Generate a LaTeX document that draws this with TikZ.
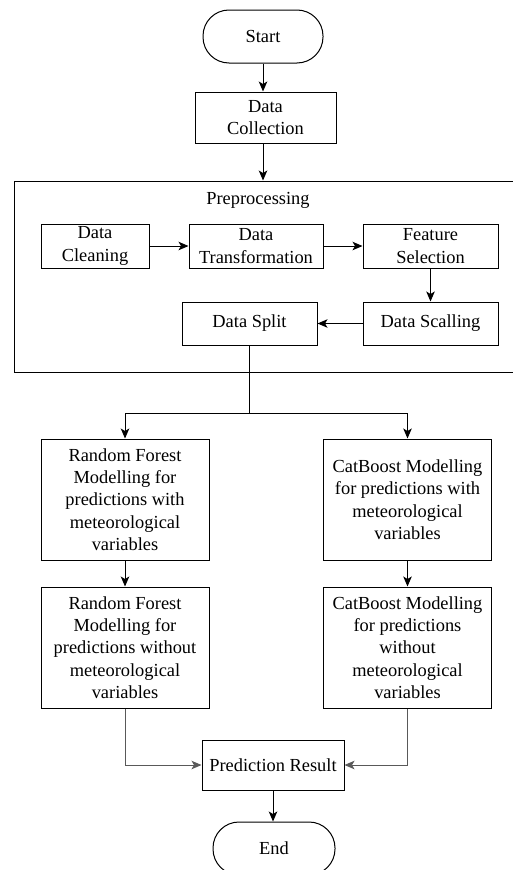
\documentclass[tikz,border=0pt]{standalone}
\usepackage{fontspec}
\setmainfont{Liberation Serif}
\usetikzlibrary{arrows.meta}
\begin{document}
\begin{tikzpicture}[x=1pt,y=-1pt,
  every node/.style={font=\fontsize{18.4}{22.4}\selectfont, align=center, inner sep=0pt},
  box/.style={draw, line width=1pt, rectangle},
  term/.style={draw, line width=1pt, rectangle, rounded corners=26pt},
  arr/.style={line width=1pt, -{Stealth[length=10pt,width=8.5pt,inset=2.5pt]}},
  ln/.style={line width=1pt}]
\useasboundingbox (0,0) rectangle (512,870);
\node[term, minimum width=120pt, minimum height=53pt] (start) at (263,36.5) {Start};
\node[box, minimum width=141pt, minimum height=51pt] (dc) at (265.5,117.5) {Data\\Collection};
\node[box, minimum width=499pt, minimum height=191pt] (prepbox) at (263.75,276.5) {};
\node (prep) at (258,200) {Preprocessing};
\node[box, minimum width=108pt, minimum height=44pt] (clean) at (95,246) {Data\\Cleaning};
\node[box, minimum width=134pt, minimum height=44pt] (trans) at (256,246) {Data\\Transformation};
\node[box, minimum width=135pt, minimum height=44pt] (feat) at (430.5,246) {Feature\\Selection};
\node[box, minimum width=135pt, minimum height=43pt] (split) at (249.5,323.5) {Data Split};
\node[box, minimum width=135pt, minimum height=43pt] (scal) at (430.5,323.5) {Data Scalling};
\coordinate (br) at (249.5,413);
\node[box, minimum width=168pt, minimum height=121pt] (rf1) at (125,499.5) {Random Forest\\Modelling for\\predictions with\\meteorological\\variables};
\node[box, minimum width=168pt, minimum height=121pt] (cb1) at (407.5,499.5) {CatBoost Modelling\\for predictions with\\meteorological\\variables};
\node[box, minimum width=168pt, minimum height=121pt] (rf2) at (125,647.5) {Random Forest\\Modelling for\\predictions without\\meteorological\\variables};
\node[box, minimum width=168pt, minimum height=121pt] (cb2) at (407.5,647.5) {CatBoost Modelling\\for predictions\\without\\meteorological\\variables};
\node[box, minimum width=142pt, minimum height=50pt] (pr) at (273,765) {Prediction Result};
\node[term, minimum width=122pt, minimum height=53pt] (end) at (274,848.5) {End};
\draw[arr] (start.south) -- (start.south |- dc.north);
\draw[arr] (start.south |- dc.south) -- (start.south |- prepbox.north);
\draw[arr] (clean) -- (trans);
\draw[arr] (trans) -- (feat);
\draw[arr] (feat) -- (scal);
\draw[arr] (scal) -- (split);
\draw[ln] (split.south) -- (br);
\draw[arr] (br) -| (rf1.north);
\draw[arr] (br) -| (cb1.north);
\draw[arr] (rf1) -- (rf2);
\draw[arr] (cb1) -- (cb2);
\draw[arr, draw=black!65] (rf2.south) |- (pr.west);
\draw[arr, draw=black!65] (cb2.south) |- (pr.east);
\draw[arr] (pr.south) -- (pr.south |- end.north);
\end{tikzpicture}
\end{document}
